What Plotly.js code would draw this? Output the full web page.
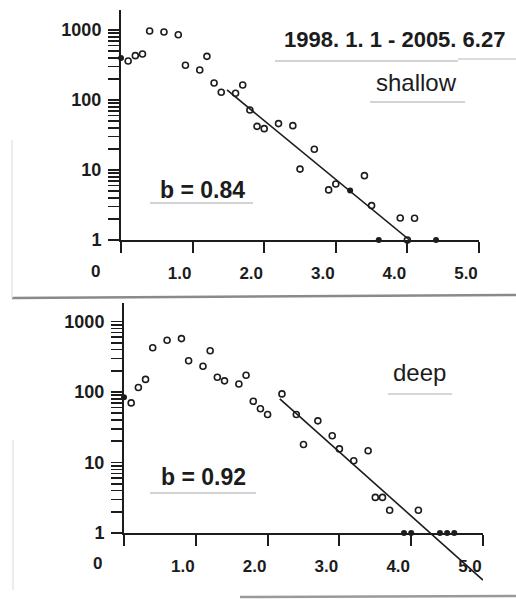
<!DOCTYPE html>
<html><head><meta charset="utf-8">
<script src="https://cdn.plot.ly/plotly-3.0.1.min.js"></script>
<style>html,body{margin:0;padding:0;background:#fff}#chart{width:516px;height:599px}</style>
</head><body><div id="chart"></div>
<script>
// ---- data (magnitude M, number N) ----
const titleText = '1998. 1. 1 - 2005. 6.27';
const topLabel = 'shallow';
const botLabel = 'deep';
const topB = 'b = 0.84';
const botB = 'b = 0.92';

const topOpenM = [0.1,0.2,0.3,0.4,0.6,0.8,0.9,1.1,1.2,1.3,1.4,1.6,1.7,1.8,1.9,2.0,2.2,2.4,2.5,2.7,2.9,3.0,3.4,3.5,3.9,4.0,4.1];
const topOpenN = [360,430,454,968,937,855,313,268,420,175,129,125,164,72,42,39,46,43,10.3,19.8,5.2,6.3,8.3,3.1,2.06,1,2.05];
const topDotM = [0.0,3.2,3.6,4.4];
const topDotN = [398,5.1,1,1];
const topFitM = [1.48,4.03];
const topFitN = [139,1.0];

const botOpenM = [0.1,0.2,0.3,0.4,0.6,0.8,0.9,1.1,1.2,1.3,1.4,1.6,1.7,1.8,1.9,2.0,2.2,2.4,2.5,2.7,2.9,3.0,3.2,3.4,3.5,3.6,3.7,4.1];
const botOpenN = [70,116,151,425,541,572,278,232,385,162,144,130,173,74,58,48,94,48,18,39,24,15.6,10.6,14.7,3.2,3.2,2.1,2.1];
const botDotM = [0.0,3.9,4.0,4.4,4.5,4.6];
const botDotN = [84,1,1,1,1,1];
const botFitM = [2.17,5.0];
const botFitN = [80,0.215];

const xTickVals = [0,1,2,3,4,5];
const xTickText = ['','1.0','2.0','3.0','4.0','5.0'];
const yDecades = [1,10,100,1000];
const yDecadeText = ['1','10','100','1000'];

// ---- build log ticks ----
const yTickVals = [], yTickText = [];
yDecades.forEach((d,i)=>{
  yTickVals.push(d); yTickText.push(yDecadeText[i]);
  if (d < 1000) for (let k=2;k<=9;k++){ yTickVals.push(d*k); yTickText.push(''); }
});

const W=516, H=599;
const px = x => x/W, py = y => 1 - y/H;
const FONT = 'Liberation Sans, Arial, sans-serif';
const INK = '#1c1c1c';

// pixel geometry of panels
const T = {x0:121, x1:479, yBase:240, yTop:10, dec:70};
const B = {x0:124, x1:483, yBase:533, yTop:303, dec:70.5, yExt:586};

function xAxis(dom, showAx){
  return {domain:[px(dom[0]),px(dom[1])], range:[0,5], showgrid:false, zeroline:false, visible:showAx,
    showline:showAx, linecolor:INK, linewidth:2, ticks:showAx?'outside':'', ticklen:11, tickwidth:2, tickcolor:INK,
    tickvals:xTickVals, ticktext:xTickText, showticklabels:showAx, ticklabelshift:-13, ticklabelstandoff:6,
    tickfont:{family:FONT,size:17,color:INK,weight:'bold'}, fixedrange:true};
}
function yAxis(domPx, rng, showAx, anchor){
  return {type:'log', domain:[py(domPx[1]),py(domPx[0])], range:rng, anchor:anchor, showgrid:false, zeroline:false, visible:showAx,
    showline:showAx, linecolor:INK, linewidth:2, ticks:showAx?'outside':'', ticklen:11, tickwidth:1.6, tickcolor:INK,
    tickvals:yTickVals, ticktext:yTickText, showticklabels:showAx, ticklabelstandoff:3,
    tickfont:{family:FONT,size:18,color:INK,weight:'bold'}, fixedrange:true};
}

const openMk = {symbol:'circle-open', size:6, color:INK, line:{width:1.6,color:INK}};
const dotMk = {symbol:'circle', size:6, color:INK};

const traces = [
  {x:topOpenM, y:topOpenN, xaxis:'x', yaxis:'y', mode:'markers', marker:openMk, cliponaxis:false},
  {x:topDotM, y:topDotN, xaxis:'x', yaxis:'y', mode:'markers', marker:dotMk, cliponaxis:false},
  {x:topFitM, y:topFitN, xaxis:'x', yaxis:'y', mode:'lines', line:{color:INK,width:1.6}},
  {x:botOpenM, y:botOpenN, xaxis:'x2', yaxis:'y2', mode:'markers', marker:openMk, cliponaxis:false},
  {x:botDotM, y:botDotN, xaxis:'x2', yaxis:'y2', mode:'markers', marker:dotMk, cliponaxis:false},
  {x:botFitM, y:botFitN, xaxis:'x3', yaxis:'y3', mode:'lines', line:{color:INK,width:1.6}}
];

function ann(text,x,y,size,bold){
  return {text:text, xref:'paper', yref:'paper', x:px(x), y:py(y), xanchor:'center', yanchor:'middle',
    showarrow:false, font:{family:FONT,size:size,color:INK,weight:bold?'bold':'normal'}};
}
function gline(x0,y0,x1,y1,c,w){
  return {type:'line', xref:'paper', yref:'paper', x0:px(x0), y0:py(y0), x1:px(x1), y1:py(y1), line:{color:c,width:w}, layer:'below'};
}

const layout = {
  width:W, height:H, margin:{l:0,r:0,t:0,b:0}, showlegend:false,
  paper_bgcolor:'#fff', plot_bgcolor:'rgba(0,0,0,0)',
  xaxis: Object.assign(xAxis([T.x0,T.x1],true), {anchor:'y'}),
  yaxis: yAxis([T.yTop,T.yBase],[0,(T.yBase-T.yTop)/T.dec],true,'x'),
  xaxis2: Object.assign(xAxis([B.x0,B.x1],true), {anchor:'y2'}),
  yaxis2: yAxis([B.yTop,B.yBase],[0,(B.yBase-B.yTop)/B.dec],true,'x2'),
  xaxis3: Object.assign(xAxis([B.x0,B.x1],false), {anchor:'y3'}),
  yaxis3: yAxis([B.yTop,B.yExt],[-(B.yExt-B.yBase)/B.dec,(B.yBase-B.yTop)/B.dec],false,'x3'),
  annotations:[
    ann(titleText,394,40,22,true),
    ann(topLabel,416,82,24,false),
    ann(topB,202,190,23,true),
    ann(botLabel,419,372,24,false),
    ann(botB,203,477,23,true),
    ann('0',95,271,17,true),
    ann('0',97,563,17,true)
  ],
  shapes:[
    gline(275,61,458,61,'#c4c4c4',1.5),
    gline(458,59,516,59,'#d0d0d0',1.5),
    gline(370,102,465,102,'#c4c4c4',1.5),
    gline(150,203,253,203,'#c4c4c4',1.5),
    gline(388,394,452,394,'#c8c8c8',1.5),
    gline(150,493,256,493,'#c4c4c4',1.5),
    gline(12,298,516,295,'#8a8a8a',2.5),
    gline(240,597,516,596,'#9a9a9a',2.5),
    gline(12,140,12,298,'#e6e6e6',1.5),
    gline(13,440,13,590,'#e6e6e6',1.5)
  ]
};

Plotly.newPlot('chart', traces, layout, {staticPlot:true, displayModeBar:false});
</script></body></html>
